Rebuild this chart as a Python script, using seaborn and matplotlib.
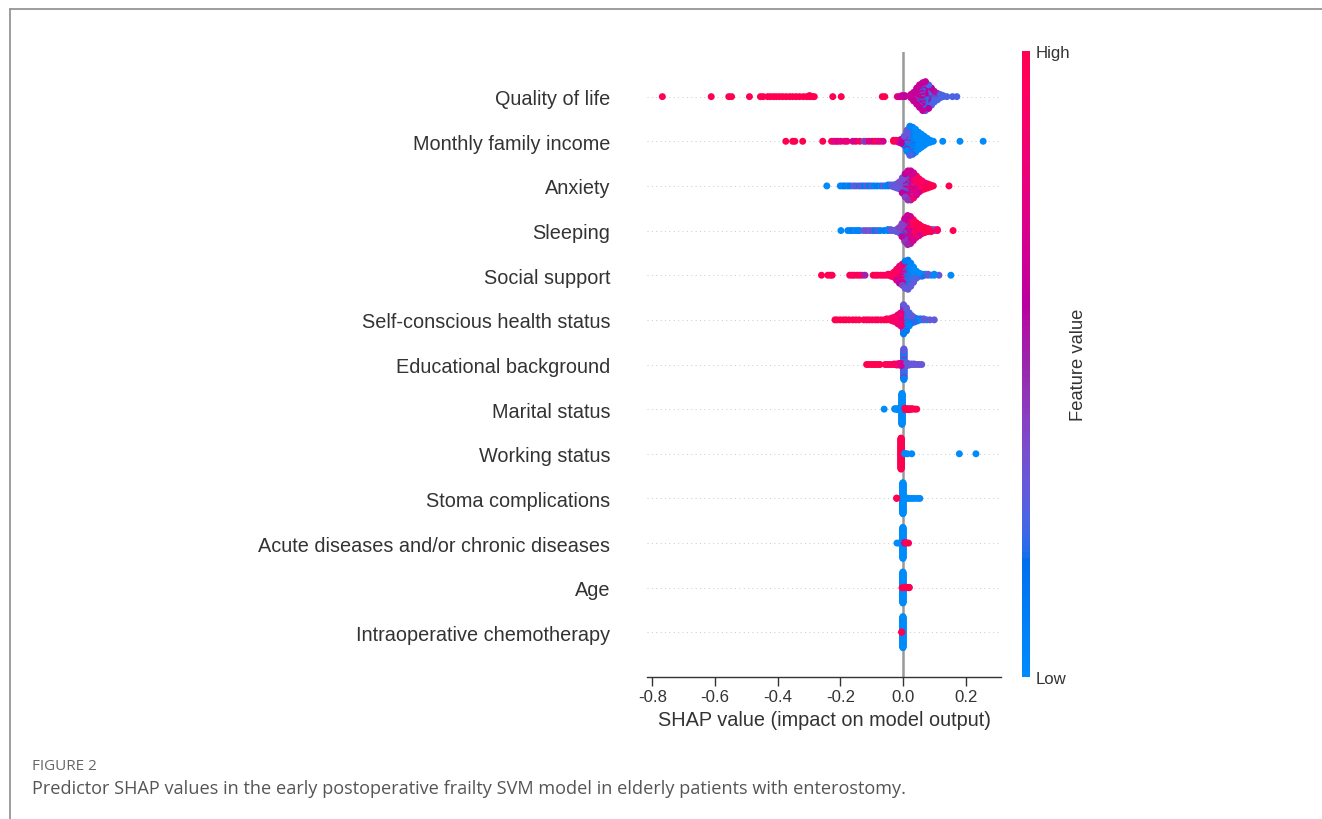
import numpy as np
import pandas as pd
import matplotlib
matplotlib.use("Agg")
import matplotlib.pyplot as plt
from matplotlib.colors import ListedColormap, Normalize
from matplotlib.cm import ScalarMappable
from matplotlib.lines import Line2D
import seaborn as sns

# ---------------------------------------------------------------------------
# Data: per predictor, groups of (SHAP value, scaled feature value, patients)
# ---------------------------------------------------------------------------
FEATURES = [
    "Quality of life",
    "Monthly family income",
    "Anxiety",
    "Sleeping",
    "Social support",
    "Self-conscious health status",
    "Educational background",
    "Marital status",
    "Working status",
    "Stoma complications",
    "Acute diseases and/or chronic diseases",
    "Age",
    "Intraoperative chemotherapy",
]
X_TICKS = [-0.8, -0.6, -0.4, -0.2, 0.0, 0.2]

quality_of_life = [
    (-0.768, 1.0, 1), (-0.612, 1.0, 1), (-0.556, 1.0, 1), (-0.547, 1.0, 1),
    (-0.490, 1.0, 1), (-0.455, 1.0, 1), (-0.446, 1.0, 1), (-0.432, 1.0, 1),
    (-0.423, 1.0, 1), (-0.413, 1.0, 1), (-0.404, 1.0, 1), (-0.394, 1.0, 1),
    (-0.384, 1.0, 1), (-0.373, 1.0, 1), (-0.362, 1.0, 1), (-0.352, 1.0, 1),
    (-0.341, 1.0, 1), (-0.330, 1.0, 1), (-0.318, 1.0, 1), (-0.307, 1.0, 1),
    (-0.298, 1.0, 2), (-0.289, 1.0, 1), (-0.283, 1.0, 1), (-0.224, 1.0, 1),
    (-0.197, 1.0, 1), (-0.066, 1.0, 1), (-0.058, 1.0, 1), (-0.018, 0.75, 1),
    (-0.010, 0.7, 1), (-0.003, 0.65, 2), (0.006, 0.62, 2),
    (0.025, 0.64, 4),
    (0.034, 0.64, 8), (0.034, 0.35, 1),
    (0.044, 0.63, 13), (0.044, 0.05, 2), (0.044, 0.35, 1),
    (0.053, 0.63, 16), (0.053, 0.05, 3), (0.053, 0.3, 3),
    (0.063, 0.62, 18), (0.063, 0.05, 4), (0.063, 0.3, 5),
    (0.072, 0.62, 16), (0.072, 0.05, 5), (0.072, 0.3, 7),
    (0.082, 0.6, 11), (0.082, 0.1, 4), (0.082, 0.25, 8),
    (0.091, 0.6, 6), (0.091, 0.15, 3), (0.091, 0.25, 8),
    (0.100, 0.55, 3), (0.100, 0.25, 8),
    (0.110, 0.25, 5), (0.110, 0.5, 2),
    (0.119, 0.25, 4), (0.128, 0.25, 2), (0.140, 0.25, 1),
    (0.158, 0.25, 1), (0.172, 0.25, 1),
]

monthly_family_income = [
    (-0.374, 1.0, 1), (-0.352, 1.0, 1), (-0.345, 1.0, 1), (-0.320, 1.0, 1),
    (-0.256, 1.0, 1), (-0.228, 0.95, 1), (-0.221, 0.8, 1), (-0.214, 0.8, 1),
    (-0.207, 0.7, 1), (-0.198, 0.8, 1), (-0.186, 0.75, 1), (-0.178, 0.8, 1),
    (-0.160, 0.75, 1), (-0.150, 0.7, 1), (-0.138, 1.0, 1), (-0.125, 0.4, 1),
    (-0.118, 0.45, 1), (-0.108, 0.75, 1), (-0.098, 0.7, 1), (-0.089, 1.0, 1),
    (-0.080, 0.75, 1), (-0.072, 0.8, 1), (-0.063, 0.7, 1), (-0.030, 1.0, 2),
    (-0.022, 0.95, 2), (-0.013, 0.75, 3), (-0.005, 0.6, 5),
    (0.004, 0.3, 6), (0.004, 0.62, 2), (0.004, 0.1, 2),
    (0.013, 0.3, 12), (0.013, 0.05, 8), (0.013, 0.55, 2),
    (0.022, 0.25, 12), (0.022, 0.05, 16), (0.022, 0.5, 2),
    (0.031, 0.2, 8), (0.031, 0.05, 20),
    (0.040, 0.15, 4), (0.040, 0.0, 20),
    (0.050, 0.0, 18), (0.059, 0.0, 14), (0.068, 0.0, 10), (0.077, 0.0, 6),
    (0.087, 0.0, 3), (0.097, 0.0, 1), (0.127, 0.0, 1), (0.182, 0.0, 1),
    (0.256, 0.0, 1),
]

anxiety = [
    (-0.243, 0.0, 1), (-0.200, 0.05, 1), (-0.192, 0.05, 1), (-0.185, 0.1, 1),
    (-0.176, 0.05, 1), (-0.168, 0.1, 1), (-0.158, 0.25, 1), (-0.150, 0.3, 1),
    (-0.140, 0.2, 1), (-0.132, 0.3, 1), (-0.124, 0.1, 1), (-0.116, 0.3, 1),
    (-0.108, 0.1, 1), (-0.100, 0.25, 1), (-0.092, 0.05, 1), (-0.082, 0.1, 1),
    (-0.072, 0.05, 1), (-0.064, 0.3, 1), (-0.056, 0.05, 1), (-0.047, 0.1, 2),
    (-0.038, 0.25, 2), (-0.029, 0.3, 3), (-0.020, 0.3, 5), (-0.011, 0.35, 8),
    (-0.002, 0.35, 10), (-0.002, 0.6, 4), (-0.002, 0.1, 2),
    (0.007, 0.4, 10), (0.007, 0.62, 10), (0.007, 0.2, 4),
    (0.016, 0.45, 10), (0.016, 0.65, 15), (0.016, 0.2, 3), (0.016, 0.9, 2),
    (0.025, 0.5, 8), (0.025, 0.66, 16), (0.025, 0.9, 6),
    (0.034, 0.68, 14), (0.034, 0.9, 10), (0.034, 0.4, 2),
    (0.043, 0.72, 10), (0.043, 0.95, 10),
    (0.052, 0.9, 10), (0.052, 0.7, 4),
    (0.061, 0.95, 10), (0.070, 1.0, 5), (0.070, 0.8, 2), (0.079, 1.0, 5),
    (0.088, 1.0, 3), (0.097, 1.0, 1), (0.147, 1.0, 1),
]

sleeping = [
    (-0.198, 0.0, 1), (-0.176, 0.05, 1), (-0.168, 0.05, 1), (-0.160, 0.1, 1),
    (-0.152, 0.0, 1), (-0.144, 0.1, 1), (-0.137, 0.05, 1), (-0.125, 0.3, 1),
    (-0.116, 0.35, 1), (-0.106, 0.3, 1), (-0.097, 0.35, 1), (-0.089, 0.1, 1),
    (-0.080, 0.3, 1), (-0.072, 0.05, 1), (-0.060, 0.1, 1), (-0.048, 0.05, 2),
    (-0.039, 0.3, 2), (-0.030, 0.35, 1), (-0.021, 0.3, 3), (-0.012, 0.4, 6),
    (-0.003, 0.4, 8), (-0.003, 0.62, 4), (-0.003, 0.1, 2),
    (0.006, 0.45, 10), (0.006, 0.65, 12), (0.006, 0.2, 2),
    (0.015, 0.5, 10), (0.015, 0.66, 16), (0.015, 0.9, 4),
    (0.024, 0.55, 8), (0.024, 0.7, 14), (0.024, 0.95, 6),
    (0.033, 0.7, 10), (0.033, 0.95, 12),
    (0.042, 0.8, 6), (0.042, 1.0, 10),
    (0.052, 1.0, 9), (0.052, 0.7, 3),
    (0.061, 1.0, 8), (0.070, 1.0, 6), (0.080, 0.95, 4), (0.090, 1.0, 3),
    (0.100, 0.35, 2), (0.110, 0.9, 2), (0.160, 1.0, 1),
]

social_support = [
    (-0.260, 1.0, 1), (-0.240, 1.0, 1), (-0.232, 1.0, 1), (-0.226, 1.0, 1),
    (-0.170, 1.0, 1), (-0.162, 0.9, 1), (-0.155, 1.0, 1), (-0.146, 0.9, 1),
    (-0.138, 1.0, 1), (-0.130, 0.85, 1), (-0.121, 0.5, 1), (-0.095, 1.0, 1),
    (-0.087, 1.0, 1), (-0.080, 0.95, 1), (-0.071, 1.0, 1), (-0.063, 0.9, 1),
    (-0.055, 1.0, 1), (-0.047, 0.9, 2), (-0.038, 0.95, 3),
    (-0.029, 0.95, 6),
    (-0.020, 0.9, 9), (-0.020, 0.7, 3),
    (-0.011, 0.85, 12), (-0.011, 0.6, 6),
    (-0.002, 0.7, 10), (-0.002, 0.4, 8), (-0.002, 0.9, 4),
    (0.007, 0.3, 12), (0.007, 0.1, 12), (0.007, 0.6, 4),
    (0.016, 0.1, 18), (0.016, 0.3, 10), (0.016, 0.0, 2),
    (0.025, 0.05, 18), (0.025, 0.3, 6),
    (0.034, 0.0, 12), (0.034, 0.3, 4),
    (0.043, 0.0, 6), (0.043, 0.3, 2),
    (0.052, 0.0, 4), (0.061, 0.2, 3), (0.070, 0.0, 2), (0.080, 0.3, 2),
    (0.090, 0.0, 1), (0.100, 0.0, 2), (0.115, 0.3, 1), (0.153, 0.0, 1),
]

self_conscious_health = [
    (-0.217, 1.0, 1), (-0.210, 1.0, 1), (-0.200, 1.0, 1), (-0.190, 1.0, 1),
    (-0.182, 1.0, 1), (-0.172, 1.0, 1), (-0.160, 1.0, 1), (-0.150, 1.0, 1),
    (-0.140, 0.95, 1), (-0.125, 1.0, 1), (-0.116, 1.0, 1), (-0.108, 0.9, 1),
    (-0.098, 1.0, 1), (-0.088, 0.9, 1), (-0.080, 1.0, 1), (-0.070, 0.95, 1),
    (-0.060, 1.0, 1), (-0.052, 1.0, 2), (-0.043, 0.95, 2), (-0.034, 0.9, 4),
    (-0.025, 0.9, 6), (-0.016, 0.85, 10), (-0.007, 0.8, 14),
    (0.002, 0.3, 18), (0.002, 0.6, 6), (0.002, 0.1, 6),
    (0.011, 0.3, 14), (0.011, 0.1, 8), (0.011, 0.5, 2),
    (0.020, 0.25, 8), (0.020, 0.05, 6),
    (0.029, 0.1, 4), (0.029, 0.3, 4),
    (0.038, 0.2, 5), (0.047, 0.0, 3), (0.056, 0.1, 2), (0.066, 0.3, 2),
    (0.076, 0.0, 1), (0.086, 0.3, 1), (0.100, 0.3, 1),
]

educational_background = [
    (-0.116, 1.0, 1), (-0.109, 1.0, 1), (-0.101, 1.0, 1), (-0.094, 1.0, 1),
    (-0.087, 1.0, 1), (-0.079, 1.0, 1), (-0.073, 1.0, 1), (-0.057, 1.0, 1),
    (-0.050, 0.95, 1), (-0.043, 1.0, 1), (-0.036, 0.9, 1), (-0.028, 1.0, 2),
    (-0.020, 0.9, 3), (-0.012, 0.8, 4), (-0.005, 0.7, 5),
    (0.003, 0.3, 30), (0.003, 0.05, 26), (0.003, 0.6, 4),
    (0.012, 0.3, 6), (0.020, 0.3, 3), (0.028, 0.35, 2), (0.036, 0.3, 2),
    (0.044, 0.3, 1), (0.052, 0.35, 1), (0.060, 0.3, 1),
]

marital_status = [
    (-0.060, 0.0, 1), (-0.026, 0.0, 2), (-0.018, 0.0, 3), (-0.010, 0.0, 3),
    (-0.003, 0.0, 70),
    (0.006, 1.0, 4), (0.014, 1.0, 3), (0.022, 1.0, 3), (0.030, 1.0, 2),
    (0.038, 1.0, 1), (0.044, 1.0, 1),
]

working_status = [
    (-0.006, 1.0, 80),
    (0.006, 0.0, 2), (0.014, 0.0, 1), (0.028, 0.0, 1),
    (0.180, 0.0, 1), (0.233, 0.0, 1),
]

stoma_complications = [
    (-0.020, 1.0, 2),
    (0.000, 0.0, 80),
    (0.012, 0.0, 2), (0.020, 0.0, 1), (0.028, 0.0, 1), (0.036, 0.0, 1),
    (0.046, 0.0, 1), (0.054, 0.0, 1),
]

chronic_diseases = [
    (-0.019, 0.0, 1), (-0.012, 0.0, 1),
    (0.000, 0.0, 80),
    (0.004, 0.55, 2), (0.010, 1.0, 2), (0.018, 1.0, 1),
]

age = [
    (0.000, 0.0, 80),
    (-0.003, 1.0, 1), (0.006, 1.0, 2), (0.012, 1.0, 2), (0.020, 1.0, 2),
]

intraoperative_chemotherapy = [
    (0.000, 0.0, 80),
    (-0.004, 1.0, 2),
]

ROWS = [
    quality_of_life, monthly_family_income, anxiety, sleeping, social_support,
    self_conscious_health, educational_background, marital_status,
    working_status, stoma_complications, chronic_diseases, age,
    intraoperative_chemotherapy,
]


# ---------------------------------------------------------------------------
# Colour map: blue -> purple -> red, interpolated in LCh space
# ---------------------------------------------------------------------------
def lch_to_rgb(L, C, h):
    a = C * np.cos(h)
    b = C * np.sin(h)
    fy = (L + 16.0) / 116.0
    fx = fy + a / 500.0
    fz = fy - b / 200.0

    def finv(t):
        return np.where(t > 6 / 29, t ** 3, 3 * (6 / 29) ** 2 * (t - 4 / 29))

    xyz = np.vstack([0.95047 * finv(fx), finv(fy), 1.08883 * finv(fz)])
    m = np.array([[3.2406, -1.5372, -0.4986],
                  [-0.9689, 1.8758, 0.0415],
                  [0.0557, -0.2040, 1.0570]])
    lin = np.clip(m @ xyz, 0, None)
    rgb = np.where(lin <= 0.0031308, 12.92 * lin,
                   1.055 * np.power(lin, 1 / 2.4) - 0.055)
    return np.clip(rgb.T, 0, 1)


steps = 100
blue_lch = (54.0, 70.0, 4.6588)
red_lch = (54.0, 90.0, 0.35470565 + 2 * np.pi)
l_mid = 40.0
L_vals = np.r_[np.linspace(blue_lch[0], l_mid, steps // 2),
               np.linspace(l_mid, red_lch[0], steps // 2)]
C_vals = np.linspace(blue_lch[1], red_lch[1], steps)
H_vals = np.linspace(blue_lch[2], red_lch[2], steps)
red_blue = ListedColormap(lch_to_rgb(L_vals, C_vals, H_vals), name="red_blue")


# ---------------------------------------------------------------------------
# Beeswarm layout: equal SHAP values stack alternately above / below the row
# ---------------------------------------------------------------------------
def swarm_offsets(values, keys, row_height=0.4):
    order = np.lexsort((keys, values))
    ys = np.zeros(len(values))
    layer, last = 0, None
    for idx in order:
        if values[idx] != last:
            layer = 0
        ys[idx] = np.ceil(layer / 2) * ((layer % 2) * 2 - 1)
        layer += 1
        last = values[idx]
    ys *= 0.9 * (row_height / np.max(ys + 1))
    return ys


n_rows = len(FEATURES)
frames = []
for r, groups in enumerate(ROWS):
    pos = n_rows - 1 - r
    vals, lvls, keys, sizes = [], [], [], []
    for v, lvl, cnt in groups:
        for j in range(cnt):
            vals.append(v)
            lvls.append(lvl)
            keys.append((j + 0.5) / cnt)
            sizes.append(cnt)
    vals = np.array(vals)
    keys = np.array(keys)
    offs = swarm_offsets(vals, keys)
    frames.append(pd.DataFrame({
        "shap": vals, "level": lvls, "row": pos + offs,
        "key": keys, "solid_stack": np.array(sizes) >= 50,
    }))
points = pd.concat(frames, ignore_index=True)
# solid single-colour stacks go down first; all other points are interleaved
points = points.sort_values(["solid_stack", "key"], ascending=[False, True],
                            kind="stable")

# ---------------------------------------------------------------------------
# Figure
# ---------------------------------------------------------------------------
sns.set_style("white")
plt.rcParams["font.family"] = ["Liberation Sans", "DejaVu Sans"]
AXIS_COLOR = "#333333"

W, H = 1322, 820
fig = plt.figure(figsize=(W / 100, H / 100), dpi=100)
fig.patch.set_facecolor("white")

ax = fig.add_axes([647 / W, 1 - 678 / H, (1001 - 647) / W, (678 - 53) / H])

for pos in range(n_rows):
    ax.axhline(pos, color="#c8c8c8", lw=0.7, dashes=(1, 3.5), zorder=-1)
ax.axvline(0, color="#999999", lw=1.8, zorder=-1)

sns.scatterplot(data=points, x="shap", y="row", hue="level",
                palette=red_blue, hue_norm=(0, 1), s=25, linewidth=0,
                alpha=1, legend=False, ax=ax, zorder=3)

ax.set_xlim(-0.817, 0.313)
ax.set_ylim(-1, n_rows)
ax.set_yticks(range(n_rows))
ax.set_yticklabels(FEATURES[::-1], fontsize=14.3, color=AXIS_COLOR)
ax.set_xticks(X_TICKS)
ax.set_xticklabels([f"{t:.1f}" for t in X_TICKS], fontsize=12.1,
                   color=AXIS_COLOR)
ax.tick_params(axis="y", length=0, pad=26.5)
ax.tick_params(axis="x", length=6.5, width=1.0, color=AXIS_COLOR, pad=2,
               direction="out", bottom=True)
ax.set_xlabel("SHAP value (impact on model output)", fontsize=14.3,
              color=AXIS_COLOR, labelpad=4.5)
ax.set_ylabel("")
for side in ("top", "right", "left"):
    ax.spines[side].set_visible(False)
ax.spines["bottom"].set_color(AXIS_COLOR)
ax.spines["bottom"].set_linewidth(1.0)
ax.grid(False)

# colour bar
cax = fig.add_axes([1022 / W, 1 - 678 / H, 8 / W, (678 - 52) / H])
cb = fig.colorbar(ScalarMappable(norm=Normalize(0, 1), cmap=red_blue),
                  cax=cax, ticks=[0, 1])
cb.set_ticklabels(["Low", "High"])
cb.ax.tick_params(labelsize=12.1, length=0, colors=AXIS_COLOR, pad=4)
cb.set_label("Feature value", size=13.2, labelpad=0, color=AXIS_COLOR)
cb.outline.set_visible(False)

# caption
fig.text(32 / W, 1 - 770 / H, "FIGURE 2", fontsize=11, color="#666666",
         family=["Open Sans", "DejaVu Sans"], va="baseline", ha="left")
fig.text(32 / W, 1 - 794 / H,
         "Predictor SHAP values in the early postoperative frailty SVM model "
         "in elderly patients with enterostomy.",
         fontsize=13.05, color="#555555", family=["Open Sans", "DejaVu Sans"],
         va="baseline", ha="left")

# frame around the figure panel
fig.add_artist(Line2D([9.5 / W, 1.0], [1 - 9.5 / H, 1 - 9.5 / H],
                      transform=fig.transFigure, color="#8c8c8c", lw=1.2))
fig.add_artist(Line2D([9.5 / W, 9.5 / W], [0.0, 1 - 9.5 / H],
                      transform=fig.transFigure, color="#8c8c8c", lw=1.2))

fig.savefig("out.png", dpi=100, facecolor="white")
